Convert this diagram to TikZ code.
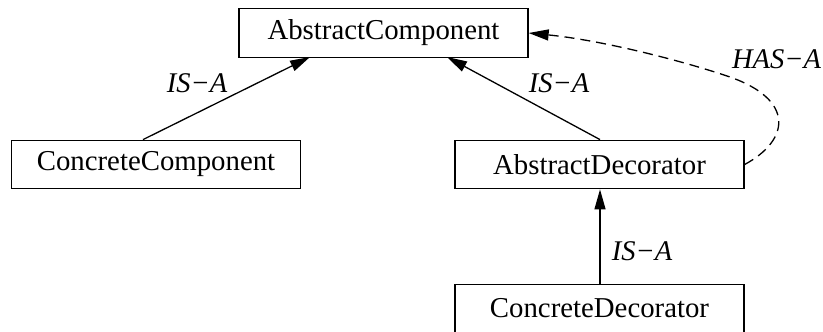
\documentclass[tikz,border=0pt]{standalone}
\usepackage{fontspec}
\setmainfont{Liberation Serif}
\usetikzlibrary{arrows.meta}
\begin{document}
\begin{tikzpicture}[x=1pt,y=-1pt,
  cls/.style={draw, line width=1.3pt, minimum width=289pt, minimum height=48.5pt, inner sep=0pt, font=\fontsize{28.8}{30}\selectfont},
  lbl/.style={font=\fontsize{28.5}{30}\selectfont\itshape, inner sep=0pt},
  isa/.style={line width=1.3pt, -{Triangle[length=20pt,width=11pt]}},
  hasa/.style={line width=1.3pt, dash pattern=on 10pt off 6pt, -{Triangle[length=20pt,width=11pt]}}]
\useasboundingbox (0,0) rectangle (823,332);
\node[cls] (ac) at (383.5,33) {AbstractComponent};
\node[cls] (cc) at (156,164.5) {ConcreteComponent};
\node[cls] (ad) at (599.5,164.5) {AbstractDecorator};
\node[cls] (cd) at (599.5,308.5) {ConcreteDecorator};
\coordinate (ccT) at (143,140);
\coordinate (acL) at (310,57);
\coordinate (adT) at (600,140);
\coordinate (acR) at (447,57);
\coordinate (bend) at (730,77);
\draw[isa] (cc.north -| ccT) -- (acL);
\draw[isa] (ad.north -| adT) -- (acR);
\draw[isa] (cd.north -| adT) -- (ad.south -| adT);
\draw[hasa] (ad.east) .. controls (790,140) and (795,100) .. (bend)
  .. controls (680,60) and (600,40) .. (ac.east);
\node[lbl] (l1) at (197,83) {IS−A};
\node[lbl] (l2) at (559,83) {IS−A};
\node[lbl] (l3) at (776.5,59.5) {HAS−A};
\node[lbl] (l4) at (642,251.5) {IS−A};
\end{tikzpicture}
\end{document}
